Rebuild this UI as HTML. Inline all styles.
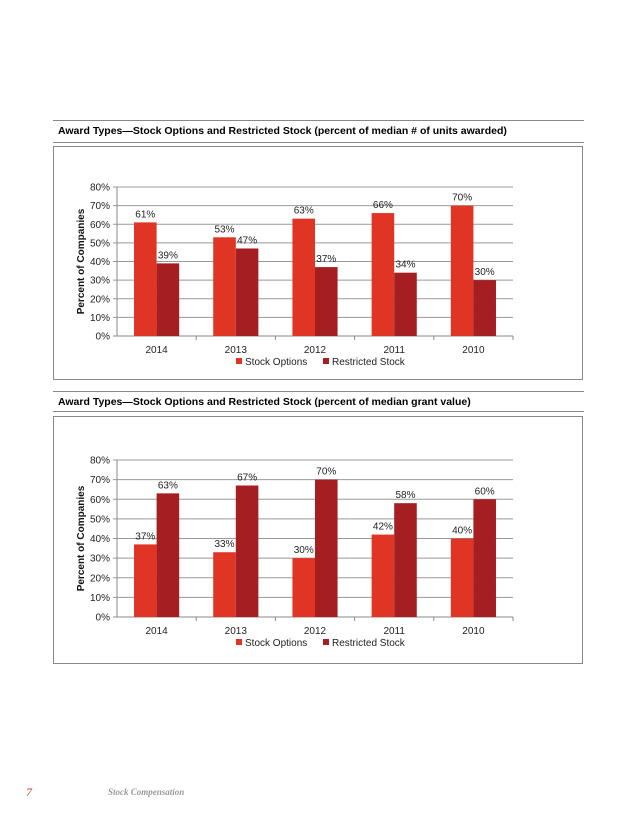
<!DOCTYPE html>
<html><head><meta charset="utf-8"><style>
body{margin:0;background:#fff;width:638px;height:826px;position:relative;font-family:"Liberation Sans",sans-serif;overflow:hidden}
.rule{position:absolute;left:53px;width:531px;height:0;border-top:1px solid #888}
.title{position:absolute;left:58px;font-size:10.5px;font-weight:bold;color:#000}
.box{position:absolute;left:53px;width:528px;border:1px solid #888}
svg{position:absolute;left:0;top:0}
</style></head><body>
<div class="rule" style="top:120px"></div>
<div class="title" style="top:125px">Award Types—Stock Options and Restricted Stock (percent of median # of units awarded)</div>
<div class="rule" style="top:142px"></div>
<div class="box" style="top:146px;height:232px"></div>
<div class="rule" style="top:391px"></div>
<div class="title" style="top:396px">Award Types—Stock Options and Restricted Stock (percent of median grant value)</div>
<div class="rule" style="top:411px"></div>
<div class="box" style="top:416px;height:246px"></div>
<div style="position:absolute;left:26px;top:785px;font-family:'Liberation Serif',serif;font-style:italic;color:#c0392b;font-size:12px">7</div>
<div style="position:absolute;left:108px;top:787px;font-family:'Liberation Serif',serif;font-style:italic;font-weight:bold;color:#999;font-size:9px">Stock Compensation</div>
<svg id="svg" width="638" height="826"></svg>
<script>
const categories=["2014","2013","2012","2011","2010"];
const c1Options=[61,53,63,66,70];
const c1Restricted=[39,47,37,34,30];
const c2Options=[37,33,30,42,40];
const c2Restricted=[63,67,70,58,60];
const ticks=[0,10,20,30,40,50,60,70,80];
const NS="http://www.w3.org/2000/svg";
const svg=document.getElementById('svg');
function mk(t,a,txt){const e=document.createElementNS(NS,t);for(const k in a)e.setAttribute(k,a[k]);if(txt!=null)e.textContent=txt;svg.appendChild(e);return e;}
function chart(id,top,bottom,opt,res){
  const L=117,R=513;
  const y=v=>bottom-(v/80)*(bottom-top);
  const cw=(R-L)/categories.length;
  const x=i=>L+cw*i;
  ticks.forEach(t=>{
    const g=mk('line',{x1:L-4,x2:R,y1:y(t),y2:y(t),stroke:t===0?'#888':'#999','stroke-width':1});
    
    
    const l=mk('text',{x:L-7,y:y(t)+3.5,'text-anchor':'end','font-size':10,fill:'#222'},t+'%');
    
    
  });
  const ax=mk('line',{x1:L,x2:L,y1:top,y2:bottom,stroke:'#888'});
  
  
  categories.forEach((c,i)=>{
    const tk=mk('line',{x1:x(i+1),x2:x(i+1),y1:bottom,y2:bottom+4,stroke:'#888'});
    
    
    const bw=cw*0.285, cx=x(i)+cw/2;
    [[opt[i],'#e03424',cx-bw,'options'],[res[i],'#a41e22',cx,'restricted']].forEach(([v,col,bx,s])=>{
      const r=mk('rect',{x:bx,y:y(v),width:bw,height:bottom-y(v),fill:col});
      
      
      const t=mk('text',{x:bx+bw/2,y:y(v)-5,'text-anchor':'middle','font-size':10,fill:'#222'},v+'%');
      
      
    });
    const cl=mk('text',{x:cx,y:bottom+17,'text-anchor':'middle','font-size':10,fill:'#222'},c);
    
    
  });
  const yt=mk('text',{x:0,y:0,transform:`translate(84,${(top+bottom)/2}) rotate(-90)`,'text-anchor':'middle','font-size':10,'font-weight':'bold',fill:'#111'},'Percent of Companies');
  
  
  const ly=bottom+29;
  const s1=mk('rect',{x:236,y:ly-7,width:6,height:6,fill:'#e03424'});
  
  
  const t1=mk('text',{x:245,y:ly,'font-size':10,fill:'#222'},'Stock Options');
  
  
  const s2=mk('rect',{x:323,y:ly-7,width:6,height:6,fill:'#a41e22'});
  
  
  const t2=mk('text',{x:332,y:ly,'font-size':10,fill:'#222'},'Restricted Stock');
  
  
}
chart('chart1',187,336,c1Options,c1Restricted);
chart('chart2',460,617,c2Options,c2Restricted);
</script>
</body></html>
